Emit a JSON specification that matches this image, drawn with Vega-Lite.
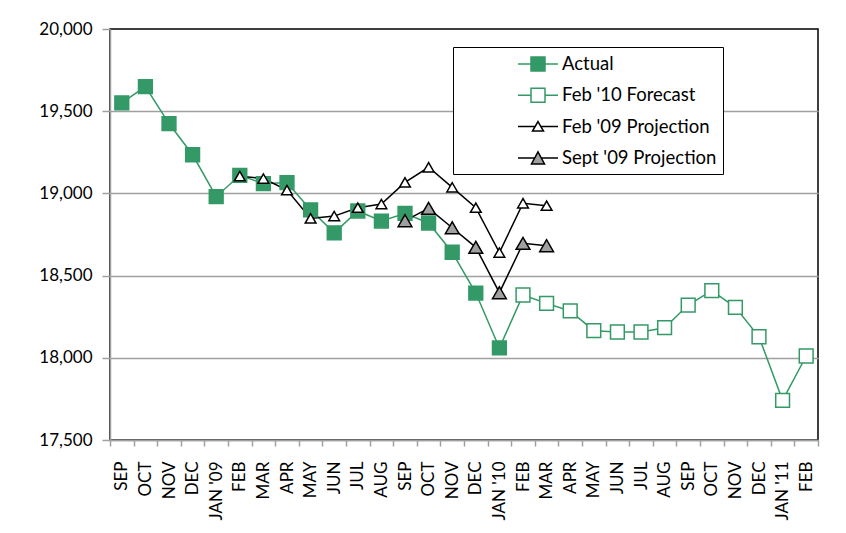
{
  "$schema": "https://vega.github.io/schema/vega-lite/v6.json",
  "width": 708,
  "height": 411,
  "autosize": {"type": "none"},
  "padding": {"left": 110, "top": 29, "right": 28, "bottom": 93},
  "background": "white",
  "config": {
    "font": "Lato",
    "view": {"stroke": "black", "strokeWidth": 1.5},
    "axis": {"labelFont": "Lato", "labelFontSize": 17, "labelColor": "black", "domainColor": "#a0a0a0", "domainWidth": 1.5, "tickColor": "#a0a0a0", "tickWidth": 1.5, "title": null},
    "legend": {"orient": "none", "legendX": 343, "legendY": 18, "labelFont": "Lato", "labelFontSize": 18.5, "labelColor": "black", "symbolSize": 400, "symbolStrokeWidth": 1.5, "symbolOpacity": 1, "strokeColor": "black", "fillColor": "white", "padding": 6, "rowPadding": 10.3, "symbolOffset": 68, "labelOffset": 13, "labelLimit": 400}
  },
  "data": {"values": [
    {"t": "2008-09-15", "s": "Actual", "v": 19550},
    {"t": "2008-10-15", "s": "Actual", "v": 19650},
    {"t": "2008-11-15", "s": "Actual", "v": 19425},
    {"t": "2008-12-15", "s": "Actual", "v": 19235},
    {"t": "2009-01-15", "s": "Actual", "v": 18980},
    {"t": "2009-02-15", "s": "Actual", "v": 19110},
    {"t": "2009-03-15", "s": "Actual", "v": 19060},
    {"t": "2009-04-15", "s": "Actual", "v": 19065},
    {"t": "2009-05-15", "s": "Actual", "v": 18900},
    {"t": "2009-06-15", "s": "Actual", "v": 18760},
    {"t": "2009-07-15", "s": "Actual", "v": 18893},
    {"t": "2009-08-15", "s": "Actual", "v": 18832},
    {"t": "2009-09-15", "s": "Actual", "v": 18878},
    {"t": "2009-10-15", "s": "Actual", "v": 18820},
    {"t": "2009-11-15", "s": "Actual", "v": 18642},
    {"t": "2009-12-15", "s": "Actual", "v": 18394},
    {"t": "2010-01-15", "s": "Actual", "v": 18060},
    {"t": "2010-01-15", "s": "Feb '10 Forecast", "v": 18060},
    {"t": "2010-02-15", "s": "Feb '10 Forecast", "v": 18382},
    {"t": "2010-03-15", "s": "Feb '10 Forecast", "v": 18331},
    {"t": "2010-04-15", "s": "Feb '10 Forecast", "v": 18285},
    {"t": "2010-05-15", "s": "Feb '10 Forecast", "v": 18165},
    {"t": "2010-06-15", "s": "Feb '10 Forecast", "v": 18157},
    {"t": "2010-07-15", "s": "Feb '10 Forecast", "v": 18157},
    {"t": "2010-08-15", "s": "Feb '10 Forecast", "v": 18183},
    {"t": "2010-09-15", "s": "Feb '10 Forecast", "v": 18321},
    {"t": "2010-10-15", "s": "Feb '10 Forecast", "v": 18408},
    {"t": "2010-11-15", "s": "Feb '10 Forecast", "v": 18307},
    {"t": "2010-12-15", "s": "Feb '10 Forecast", "v": 18128},
    {"t": "2011-01-15", "s": "Feb '10 Forecast", "v": 17741},
    {"t": "2011-02-15", "s": "Feb '10 Forecast", "v": 18011},
    {"t": "2009-02-15", "s": "Feb '09 Projection", "v": 19105},
    {"t": "2009-03-15", "s": "Feb '09 Projection", "v": 19090},
    {"t": "2009-04-15", "s": "Feb '09 Projection", "v": 19020},
    {"t": "2009-05-15", "s": "Feb '09 Projection", "v": 18848},
    {"t": "2009-06-15", "s": "Feb '09 Projection", "v": 18862},
    {"t": "2009-07-15", "s": "Feb '09 Projection", "v": 18913},
    {"t": "2009-08-15", "s": "Feb '09 Projection", "v": 18935},
    {"t": "2009-09-15", "s": "Feb '09 Projection", "v": 19067},
    {"t": "2009-10-15", "s": "Feb '09 Projection", "v": 19159},
    {"t": "2009-11-15", "s": "Feb '09 Projection", "v": 19037},
    {"t": "2009-12-15", "s": "Feb '09 Projection", "v": 18913},
    {"t": "2010-01-15", "s": "Feb '09 Projection", "v": 18640},
    {"t": "2010-02-15", "s": "Feb '09 Projection", "v": 18940},
    {"t": "2010-03-15", "s": "Feb '09 Projection", "v": 18925},
    {"t": "2009-09-15", "s": "Sept '09 Projection", "v": 18834},
    {"t": "2009-10-15", "s": "Sept '09 Projection", "v": 18909},
    {"t": "2009-11-15", "s": "Sept '09 Projection", "v": 18791},
    {"t": "2009-12-15", "s": "Sept '09 Projection", "v": 18672},
    {"t": "2010-01-15", "s": "Sept '09 Projection", "v": 18396},
    {"t": "2010-02-15", "s": "Sept '09 Projection", "v": 18696},
    {"t": "2010-03-15", "s": "Sept '09 Projection", "v": 18682}
  ]},
  "encoding": {
    "x": {
      "field": "t", "type": "ordinal", "sort": "ascending",
      "scale": {"paddingInner": 0, "paddingOuter": 0},
      "axis": {
        "title": null, "labelAngle": 270, "labelAlign": "right", "labelBaseline": "middle",
        "labelPadding": 15, "tickSize": 6, "tickBand": "extent", "grid": false, "labelOverlap": false,
        "labelExpr": "datum.value == null || datum.value === '' ? '' : upper(utcFormat(toDate(datum.value), '%b')) + (utcFormat(toDate(datum.value), '%m') === '01' ? \" '\" + utcFormat(toDate(datum.value), '%y') : '')"
      }
    },
    "y": {
      "field": "v", "type": "quantitative",
      "scale": {"domain": [17500, 20000], "nice": false, "zero": false},
      "axis": {
        "title": null, "values": [17500, 18000, 18500, 19000, 19500, 20000], "format": ",.0f",
        "tickSize": 8, "labelPadding": 10, "grid": true, "gridColor": "#a0a0a0", "gridWidth": 1.5,
        "gridOpacity": {"condition": {"test": "datum.value === 20000", "value": 0}, "value": 1}
      }
    }
  },
  "layer": [
    {
      "mark": {"type": "line", "strokeWidth": 1.5},
      "encoding": {
        "stroke": {"field": "s", "type": "nominal", "title": null,
          "scale": {"domain": ["Actual", "Feb '10 Forecast", "Feb '09 Projection", "Sept '09 Projection"], "range": ["#339966", "#339966", "#000000", "#000000"]}}
      }
    },
    {
      "transform": [
        {"filter": "(datum.s === 'Actual' || datum.s === \"Feb '10 Forecast\") && !(datum.s === \"Feb '10 Forecast\" && datum.t === '2010-01-15')"}
      ],
      "mark": {"type": "point", "shape": "square", "filled": true, "size": 190, "strokeWidth": 1.5, "opacity": 1},
      "encoding": {
        "fill": {"field": "s", "type": "nominal", "title": null,
          "scale": {"domain": ["Actual", "Feb '10 Forecast", "Feb '09 Projection", "Sept '09 Projection"], "range": ["#339966", "#ffffff", "#ffffff", "#a0a0a0"]}},
        "stroke": {"field": "s", "type": "nominal", "title": null}
      }
    },
    {
      "transform": [
        {"filter": "datum.s === \"Feb '09 Projection\" || datum.s === \"Sept '09 Projection\""}
      ],
      "mark": {"type": "point", "shape": "triangle-up", "filled": true, "strokeWidth": 1.5, "opacity": 1},
      "encoding": {
        "fill": {"field": "s", "type": "nominal", "title": null},
        "stroke": {"field": "s", "type": "nominal", "title": null},
        "size": {"condition": {"test": "datum.s === \"Sept '09 Projection\"", "value": 190}, "value": 115}
      }
    },
    {
      "transform": [{"filter": "false"}],
      "mark": {"type": "point", "filled": true, "strokeWidth": 1.5, "opacity": 1},
      "encoding": {
        "fill": {"field": "s", "type": "nominal", "title": null},
        "stroke": {"field": "s", "type": "nominal", "title": null},
        "shape": {"field": "s", "type": "nominal", "title": null,
          "scale": {"domain": ["Actual", "Feb '10 Forecast", "Feb '09 Projection", "Sept '09 Projection"],
            "range": [
              "M-2,0H-0.7M0.7,0H2M-0.7,-0.7H0.7V0.7H-0.7Z",
              "M-2,0H-0.7M0.7,0H2M-0.7,-0.7H0.7V0.7H-0.7Z",
              "M-2,0H-0.29M0.29,0H2M0,-0.5L0.55,0.45H-0.55Z",
              "M-2,0H-0.33M0.33,0H2M0,-0.6L0.65,0.6H-0.65Z"
            ]}}
      }
    }
  ]
}
